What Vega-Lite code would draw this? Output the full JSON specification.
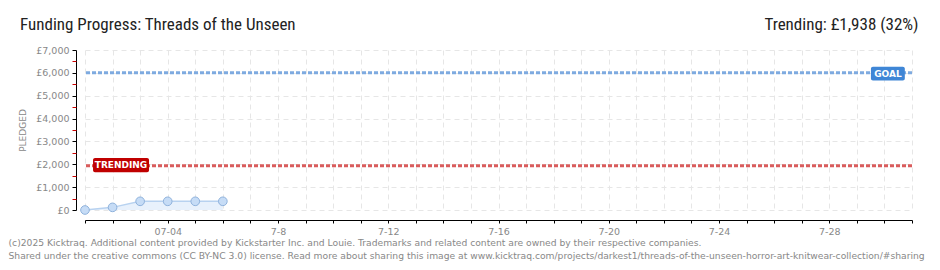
{
  "$schema": "https://vega.github.io/schema/vega-lite/v6.json",
  "width": 827,
  "height": 160,
  "autosize": {"type": "none"},
  "padding": {"left": 85, "top": 50, "right": 28, "bottom": 60},
  "background": "white",
  "config": {"view": {"stroke": null}},
  "title": {
    "text": "Funding Progress: Threads of the Unseen",
    "anchor": "start",
    "frame": "group",
    "dx": -65,
    "dy": 32,
    "font": "Liberation Sans Narrow, Roboto Condensed, DejaVu Sans Condensed",
    "fontSize": 17,
    "fontWeight": "normal",
    "color": "#222222",
    "baseline": "alphabetic",
    "offset": 0
  },
  "datasets": {
    "pledges": [
      {"date": "2025-07-01", "pledged": 0},
      {"date": "2025-07-02", "pledged": 115},
      {"date": "2025-07-03", "pledged": 380},
      {"date": "2025-07-04", "pledged": 380},
      {"date": "2025-07-05", "pledged": 380},
      {"date": "2025-07-06", "pledged": 380}
    ],
    "targets": [
      {"kind": "Goal", "amount": 6000},
      {"kind": "Trending", "amount": 1938}
    ]
  },
  "resolve": {"axis": {"x": "independent", "y": "independent"}},
  "layer": [
    {
      "data": {"name": "pledges"},
      "mark": {"type": "area", "color": "#e8f1fc"},
      "encoding": {
        "x": {
          "field": "date", "type": "temporal",
          "scale": {"type": "utc", "domain": [{"year": 2025, "month": 7, "date": 1, "utc": true}, {"year": 2025, "month": 7, "date": 31, "utc": true}]},
          "axis": {
            "orient": "bottom",
            "offset": 10,
            "tickCount": {"interval": "day", "step": 1},
            "labelExpr": "(utcdate(datum.value) % 4 === 0) ? (utcdate(datum.value) === 4 ? '07-04' : '7-' + utcdate(datum.value)) : ''",
            "labelFont": "DejaVu Sans",
            "labelFontSize": 9.5,
            "labelColor": "#888888",
            "labelPadding": 3,
            "labelOverlap": false,
            "tickSize": 3,
            "tickColor": "#000000",
            "domainColor": "#000000",
            "grid": true,
            "gridColor": "#e6e6e6",
            "gridDash": [5, 4],
            "title": [
              "(c)2025 Kicktraq. Additional content provided by Kickstarter Inc. and Louie. Trademarks and related content are owned by their respective companies.",
              "Shared under the creative commons (CC BY-NC 3.0) license. Read more about sharing this image at www.kicktraq.com/projects/darkest1/threads-of-the-unseen-horror-art-knitwear-collection/#sharing"
            ],
            "titleAnchor": "start",
            "titleAlign": "left",
            "titleBaseline": "top",
            "titleX": -77,
            "titleY": 18,
            "titleFont": "DejaVu Sans",
            "titleFontSize": 9.2,
            "titleFontWeight": "normal",
            "titleColor": "#888888",
            "titleLineHeight": 13
          }
        },
        "y": {
          "field": "pledged", "type": "quantitative",
          "stack": null,
          "scale": {"domain": [0, 7000], "nice": false},
          "axis": {
            "orient": "left",
            "values": [0, 1000, 2000, 3000, 4000, 5000, 6000, 7000],
            "offset": 9,
            "labelExpr": "'£' + format(datum.value, ',')",
            "labelOverlap": false,
            "labelFont": "DejaVu Sans",
            "labelFontSize": 9.5,
            "labelColor": "#888888",
            "labelPadding": 3,
            "tickSize": 4,
            "tickColor": "#000000",
            "domainColor": "#000000",
            "grid": true,
            "gridColor": "#e6e6e6",
            "gridDash": [5, 4],
            "title": "PLEDGED",
            "titleFont": "DejaVu Sans",
            "titleFontSize": 9,
            "titleFontWeight": "normal",
            "titleColor": "#888888",
            "titlePadding": 8
          }
        }
      }
    },
    {
      "data": {"name": "pledges"},
      "mark": {"type": "line", "color": "#b8d2f0", "strokeWidth": 1.5},
      "encoding": {
        "x": {"field": "date", "type": "temporal", "axis": null},
        "y": {"field": "pledged", "type": "quantitative", "axis": null}
      }
    },
    {
      "data": {"name": "pledges"},
      "mark": {"type": "point", "filled": true, "fill": "#c6dcf6", "stroke": "#8fb2dc", "strokeWidth": 1, "size": 75, "opacity": 1},
      "encoding": {
        "x": {"field": "date", "type": "temporal", "axis": null},
        "y": {"field": "pledged", "type": "quantitative", "axis": null}
      }
    },
    {
      "data": {"name": "targets"},
      "mark": {"type": "rule", "strokeWidth": 3, "strokeDash": [4, 2]},
      "encoding": {
        "y": {
          "field": "amount", "type": "quantitative",
          "axis": {
            "orient": "left",
            "values": [500, 1500, 2500, 3500, 4500, 5500, 6500],
            "offset": 9,
            "labels": false,
            "domain": false,
            "grid": false,
            "tickSize": 4,
            "tickColor": "#cc0000",
            "title": null
          }
        },
        "color": {"field": "kind", "type": "nominal", "scale": {"domain": ["Goal", "Trending"], "range": ["#7eaae0", "#d95c5c"]}, "legend": null}
      }
    },
    {
      "data": {"values": [{"label": "TRENDING"}]},
      "mark": {"type": "rect", "color": "#c00000", "cornerRadius": 2},
      "encoding": {
        "x": {"datum": {"year": 2025, "month": 7, "date": 1, "hours": 7, "utc": true}, "type": "temporal", "axis": null},
        "x2": {"datum": {"year": 2025, "month": 7, "date": 3, "hours": 7, "minutes": 45, "utc": true}},
        "y": {"datum": 2270, "type": "quantitative", "axis": null},
        "y2": {"datum": 1650}
      }
    },
    {
      "data": {"values": [{"label": "TRENDING"}]},
      "mark": {"type": "text", "color": "white", "font": "DejaVu Sans", "fontSize": 9, "fontWeight": "bold", "baseline": "middle", "align": "center"},
      "encoding": {
        "x": {"datum": {"year": 2025, "month": 7, "date": 2, "hours": 7, "minutes": 20, "utc": true}, "type": "temporal", "axis": null},
        "y": {"datum": 1960, "type": "quantitative", "axis": null},
        "text": {"field": "label"}
      }
    },
    {
      "data": {"values": [{"label": "GOAL"}]},
      "mark": {"type": "rect", "color": "#3f86d6", "cornerRadius": 2},
      "encoding": {
        "x": {"datum": {"year": 2025, "month": 7, "date": 29, "hours": 12, "minutes": 15, "utc": true}, "type": "temporal", "axis": null},
        "x2": {"datum": {"year": 2025, "month": 7, "date": 30, "hours": 17, "minutes": 45, "utc": true}},
        "y": {"datum": 6270, "type": "quantitative", "axis": null},
        "y2": {"datum": 5670}
      }
    },
    {
      "data": {"values": [{"label": "GOAL"}]},
      "mark": {"type": "text", "color": "white", "font": "DejaVu Sans", "fontSize": 9, "fontWeight": "bold", "baseline": "middle", "align": "center"},
      "encoding": {
        "x": {
          "datum": {"year": 2025, "month": 7, "date": 30, "hours": 3, "utc": true}, "type": "temporal",
          "axis": {
            "orient": "top",
            "labels": false, "ticks": false, "domain": false, "grid": false,
            "title": "Trending: £1,938 (32%)",
            "titleAnchor": "end",
            "titleAlign": "right",
            "titleBaseline": "alphabetic",
            "titleX": 833,
            "titleY": -21,
            "titleFont": "Liberation Sans Narrow, Roboto Condensed, DejaVu Sans Condensed",
            "titleFontSize": 17,
            "titleFontWeight": "normal",
            "titleColor": "#222222"
          }
        },
        "y": {"datum": 5970, "type": "quantitative", "axis": null},
        "text": {"field": "label"}
      }
    }
  ]
}
